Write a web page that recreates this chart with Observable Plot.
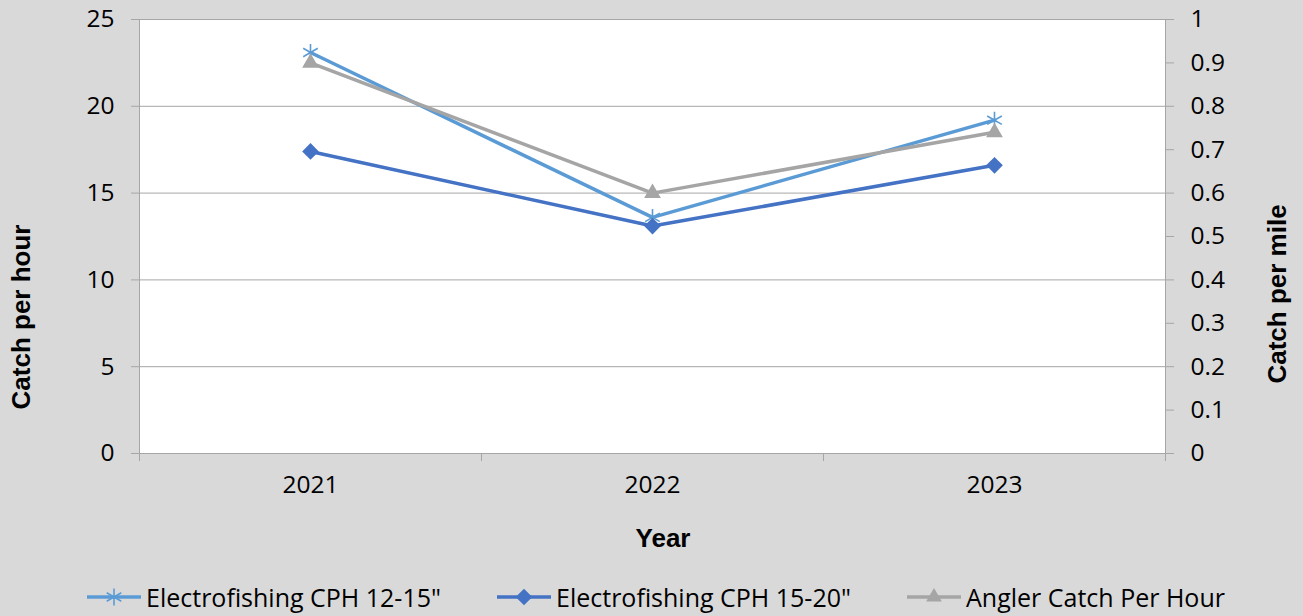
<!DOCTYPE html>
<html><head><meta charset="utf-8">
<script src="https://cdn.jsdelivr.net/npm/d3@7"></script>
<script src="https://cdn.jsdelivr.net/npm/@observablehq/plot@0.6"></script>
<style>
html,body{margin:0;padding:0;background:#d9d9d9;}
#wrap{position:relative;width:1303px;height:616px;overflow:hidden;background:#d9d9d9;}
#legend{position:absolute;left:0;top:570px;width:1303px;height:54px;font-family:'Open Sans',sans-serif;font-size:25px;color:#000;}
.item{position:absolute;top:0;height:54px;display:flex;align-items:center;white-space:nowrap;}
.item svg{margin-right:4px;}
</style></head><body>
<div id="wrap"><div id="chart"></div><div id="legend"></div></div>
<script>
const years = [2021, 2022, 2023];
const cph1215 = [23.1, 13.6, 19.2];
const cph1520 = [17.4, 13.1, 16.6];
const anglerPerMile = [0.90, 0.60, 0.74];
const leftTicks = [0, 5, 10, 15, 20, 25];
const rightTicks = [0, 0.1, 0.2, 0.3, 0.4, 0.5, 0.6, 0.7, 0.8, 0.9, 1];
const seriesNames = ["Electrofishing CPH 12-15\"", "Electrofishing CPH 15-20\"", "Angler Catch Per Hour"];
const seriesColors = ["#5b9bd5", "#4472c4", "#a5a5a5"];
const seriesSymbols = ["asterisk", "diamond2", "triangle2"];
const yLeftTitle = "Catch per hour";
const yRightTitle = "Catch per mile";
const xTitle = "Year";
const leftMax = 25, rightMax = 1;
const K = leftMax / rightMax;

const rows = [];
years.forEach((yr, i) => {
  rows.push({year: yr, value: cph1215[i], series: seriesNames[0]});
  rows.push({year: yr, value: cph1520[i], series: seriesNames[1]});
  rows.push({year: yr, value: anglerPerMile[i] * K, series: seriesNames[2]});
});
const bounds = [years[0] - 0.5, ...years.map(y => y + 0.5)];

const W = 1303, H = 570;
const grid = "#a6a6a6";
const bySeries = s => rows.filter(r => r.series === s);

const marks = [
  Plot.frame({fill: "white", stroke: grid}),
  Plot.gridY(leftTicks.filter(d => d > 0 && d < leftMax), {stroke: grid, strokeOpacity: 1}),
  Plot.axisY(leftTicks, {anchor: "left", tickSize: 8, tickPadding: 17, stroke: grid, label: null, fill: "#000"}),
  Plot.axisY(rightTicks.map(d => d * K), {anchor: "right", tickSize: 8, tickPadding: 17, stroke: grid, label: null, fill: "#000",
    tickFormat: d => d3.format("~g")(+(d / K).toFixed(2))}),
  Plot.axisX(bounds, {tickSize: 8, tickFormat: () => "", stroke: grid, label: null}),
  Plot.axisX(years, {tickSize: 0, tickPadding: 22, tickFormat: d => String(d), label: null, fill: "#000"}),
];
seriesNames.forEach((s, i) => {
  marks.push(Plot.line(bySeries(s), {x: "year", y: "value", stroke: seriesColors[i], strokeWidth: 3.5}));
});
seriesNames.forEach((s, i) => {
  if (seriesSymbols[i] === "asterisk") {
    marks.push(Plot.dot(bySeries(s), {x: "year", y: "value", symbol: () => "asterisk", r: 8, stroke: seriesColors[i], strokeWidth: 1.6, fill: "none"}));
  } else {
    marks.push(Plot.dot(bySeries(s), {x: "year", y: "value", symbol: () => seriesSymbols[i], r: seriesSymbols[i] === "diamond2" ? 7.5 : 8, fill: seriesColors[i], stroke: "none"}));
  }
});

const chart = Plot.plot({
  width: W, height: H,
  marginLeft: 139, marginRight: 138, marginTop: 19, marginBottom: H - 453,
  style: {background: "transparent", fontFamily: "'Open Sans', sans-serif", fontSize: "24.5px", color: "#000", overflow: "visible"},
  x: {domain: [bounds[0], bounds[bounds.length - 1]], axis: null},
  y: {domain: [0, leftMax], axis: null},
  marks
});
document.getElementById("chart").appendChild(chart);

// axis titles
const svg = d3.select(chart);
const titleFont = "'Liberation Sans', Arial, sans-serif";
const addTitle = (text, x, y, rot) => {
  svg.append("text").attr("transform", `translate(${x},${y}) rotate(${rot})`)
    .attr("text-anchor", "middle").attr("dominant-baseline", "central")
    .attr("font-family", titleFont).attr("font-weight", "bold").attr("font-size", 26)
    .attr("fill", "#000").text(text);
};
addTitle(yLeftTitle, 21, 317, -90);
addTitle(yRightTitle, 1277, 294, -90);
addTitle(xTitle, 663, 538, 0);

const legendX = [86, 496, 906];
const legend = document.getElementById("legend");
seriesNames.forEach((s, i) => {
  const div = document.createElement("div");
  div.className = "item";
  div.style.left = legendX[i] + "px";
  const sym = d3.symbol().type(seriesSymbols[i] === "asterisk" ? d3.symbolAsterisk : seriesSymbols[i] === "diamond2" ? d3.symbolDiamond2 : d3.symbolTriangle2).size(seriesSymbols[i] === "asterisk" ? 200 : 176)();
  const filled = seriesSymbols[i] !== "asterisk";
  div.innerHTML = `<svg width="56" height="24"><line x1="1" x2="55" y1="12" y2="12" stroke="${seriesColors[i]}" stroke-width="3.5"/><path transform="translate(28,12)" d="${sym}" fill="${filled ? seriesColors[i] : "none"}" stroke="${filled ? "none" : seriesColors[i]}" stroke-width="1.6"/></svg><span>${s.replace(/"/g, "&quot;")}</span>`;
  legend.appendChild(div);
});
</script>
</body></html>
